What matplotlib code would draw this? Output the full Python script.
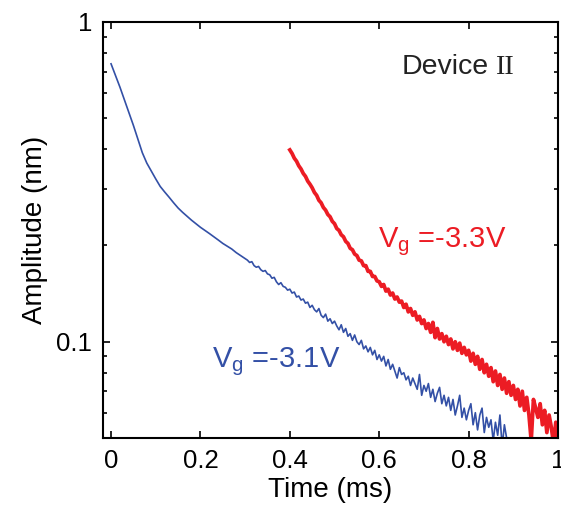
# Amplitude decay of device II at two gate voltages (log scale)
import numpy as np
import matplotlib
matplotlib.use("Agg")
import matplotlib.pyplot as plt

plt.rcParams['font.family'] = ['Liberation Sans', 'DejaVu Sans']
plt.rcParams['mathtext.fontset'] = 'custom'
plt.rcParams['mathtext.rm'] = 'Liberation Sans'

# Vg = -3.1 V: smooth start (step 0.01 ms) then noisy tail (step 0.005 ms)
blue_smooth = [0.74, 0.68, 0.625, 0.57, 0.52, 0.475, 0.43, 0.39, 0.362, 0.342,
               0.323, 0.306, 0.294, 0.283, 0.272, 0.262, 0.254, 0.247, 0.240, 0.234,
               0.228, 0.223, 0.218, 0.213, 0.208, 0.203, 0.199, 0.195, 0.190, 0.186,
               0.182]
blue_noisy = [0.180, 0.177, 0.178, 0.173, 0.171, 0.172, 0.168, 0.166, 0.167, 0.163,
              0.162, 0.158, 0.159, 0.154, 0.151, 0.153, 0.149, 0.148, 0.145, 0.146,
              0.142, 0.143, 0.138, 0.139, 0.135, 0.136, 0.132, 0.133, 0.128, 0.130,
              0.126, 0.124, 0.127, 0.121, 0.119, 0.122, 0.116, 0.118, 0.114, 0.116,
              0.112, 0.109, 0.113, 0.107, 0.110, 0.104, 0.106, 0.101, 0.105, 0.100,
              0.098, 0.101, 0.095, 0.097, 0.093, 0.096, 0.091, 0.094, 0.088, 0.091,
              0.087, 0.090, 0.084, 0.088, 0.082, 0.085, 0.081, 0.077, 0.083, 0.079,
              0.080, 0.076, 0.078, 0.073, 0.077, 0.074, 0.071, 0.079, 0.068, 0.073,
              0.070, 0.074, 0.067, 0.071, 0.065, 0.069, 0.072, 0.064, 0.068, 0.063,
              0.067, 0.061, 0.066, 0.059, 0.063, 0.068, 0.058, 0.062, 0.057, 0.061,
              0.064, 0.055, 0.060, 0.053, 0.059, 0.062, 0.052, 0.058, 0.054, 0.057,
              0.049, 0.056, 0.051, 0.059, 0.047, 0.055, 0.050, 0.049]

# Vg = -3.3 V, 0.4 to 1.0 ms, step 0.005 ms
red_amp = [0.398, 0.388, 0.375, 0.367, 0.355, 0.347, 0.336, 0.329, 0.318, 0.311,
           0.303, 0.293, 0.287, 0.277, 0.272, 0.263, 0.258, 0.250, 0.246, 0.238,
           0.234, 0.226, 0.223, 0.216, 0.213, 0.206, 0.203, 0.196, 0.194, 0.188,
           0.186, 0.180, 0.179, 0.173, 0.173, 0.166, 0.166, 0.160, 0.160, 0.155,
           0.154, 0.149, 0.151, 0.144, 0.146, 0.140, 0.142, 0.136, 0.138, 0.133,
           0.134, 0.128, 0.131, 0.124, 0.127, 0.121, 0.124, 0.117, 0.120, 0.114,
           0.117, 0.110, 0.114, 0.107, 0.115, 0.103, 0.110, 0.102, 0.106, 0.100,
           0.104, 0.098, 0.102, 0.095, 0.100, 0.094, 0.099, 0.092, 0.096, 0.091,
           0.094, 0.087, 0.092, 0.085, 0.090, 0.082, 0.088, 0.080, 0.085, 0.078,
           0.083, 0.075, 0.081, 0.073, 0.079, 0.071, 0.077, 0.069, 0.075, 0.068,
           0.073, 0.066, 0.071, 0.063, 0.070, 0.061, 0.067, 0.059, 0.049, 0.066,
           0.062, 0.058, 0.064, 0.055, 0.061, 0.052, 0.059, 0.054, 0.048, 0.056,
           0.050]

blue_t = np.concatenate([np.linspace(0.0, 0.30, len(blue_smooth)),
                         np.linspace(0.305, 0.89, len(blue_noisy))])
blue_amp = blue_smooth + blue_noisy
red_t = np.linspace(0.40, 1.00, len(red_amp))

xticks = [0, 0.2, 0.4, 0.6, 0.8, 1]
xticklabels = ['0', '0.2', '0.4', '0.6', '0.8', '1']

blue = '#3350a6'
red = '#ec1c24'

fig = plt.figure(figsize=(5.61, 5.08), dpi=100)
ax = fig.add_axes([0.1836, 0.1378, 0.8111, 0.8189])

ax.plot(blue_t, blue_amp, color=blue, lw=1.2)
ax.plot(red_t, red_amp, color=red, lw=2.7)

ax.set_yscale('log')
ax.set_xlim(-0.018, 1.0)
ax.set_ylim(0.05, 1)
ax.set_xticks(xticks)
ax.set_xticklabels(xticklabels)
ax.set_yticks([0.1, 1])
ax.set_yticklabels(['0.1', '1'])
ax.yaxis.set_minor_formatter(matplotlib.ticker.NullFormatter())

ax.tick_params(which='both', direction='in', top=True, right=True,
               labelsize=18.5, width=1.2, pad=8)
ax.tick_params(which='major', length=5)
ax.tick_params(which='minor', length=3)
for s in ax.spines.values():
    s.set_linewidth(1.5)

ax.set_xlabel('Time (ms)', fontsize=20, labelpad=3)
ax.set_ylabel('Amplitude (nm)', fontsize=20, labelpad=6)

ax.text(0.226, 0.0835, r'$\mathregular{V_g}$ =-3.1V', color=blue, fontsize=21)
ax.text(0.597, 0.198, r'$\mathregular{V_g}$ =-3.3V', color=red, fontsize=21)

ax.text(0.657, 0.875, 'Device', transform=ax.transAxes, fontsize=20.5, color='#222222')
ax.text(0.862, 0.875, 'II', transform=ax.transAxes, fontsize=20.5, color='#222222',
        family=['Liberation Serif', 'DejaVu Serif'])

fig.savefig('out.png', dpi=100)
